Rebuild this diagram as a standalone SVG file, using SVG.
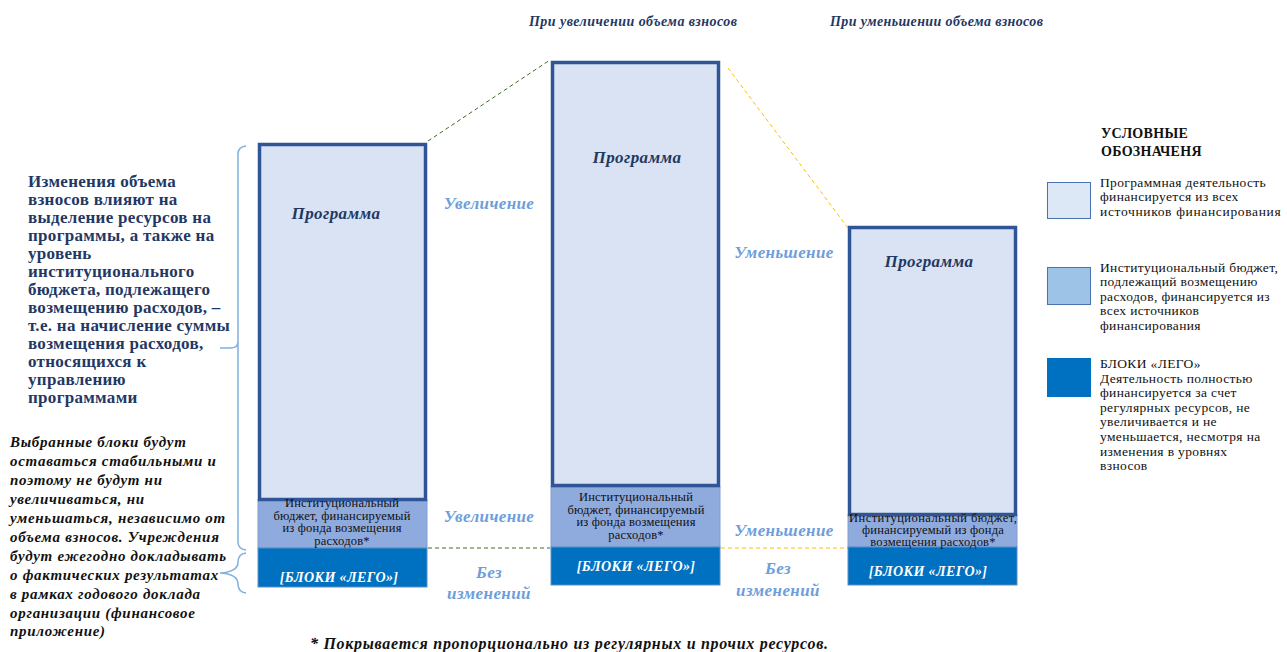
<svg xmlns="http://www.w3.org/2000/svg" width="1287" height="652" viewBox="0 0 1287 652">
<style>
.prog{fill:#dae3f3;stroke:#2f5597;stroke-width:3.5}
.inst{fill:#8faadc;stroke:#7f9fd0;stroke-width:1}
.lego{fill:#0070c0;stroke:#5b8fc8;stroke-width:1}
.pt{font-family:"Liberation Serif",serif;font-weight:bold;font-style:italic;font-size:17px;letter-spacing:0.4px;fill:#1f3864;text-anchor:middle}
.it{font-family:"Liberation Serif",serif;font-size:12.5px;letter-spacing:0.2px;fill:#111;text-anchor:middle}
.lt{font-family:"Liberation Serif",serif;font-weight:bold;font-style:italic;font-size:14px;letter-spacing:0.4px;fill:#fff;text-anchor:middle}
.ch{font-family:"Liberation Serif",serif;font-weight:bold;font-style:italic;font-size:17px;letter-spacing:0.4px;fill:#6d9edb;text-anchor:middle}
.hd{font-family:"Liberation Serif",serif;font-weight:bold;font-style:italic;font-size:14px;fill:#1f3864}
.lg{font-family:"Liberation Serif",serif;font-size:13.5px;letter-spacing:0.35px;fill:#111}
.brace{fill:none;stroke:#7fb0e0;stroke-width:1.5}
</style>
<rect width="1287" height="652" fill="#fff"/>

<g id="headings">
<text class="hd" x="529" y="26" textLength="208" lengthAdjust="spacing">При увеличении объема взносов</text>
<text class="hd" x="830" y="26" textLength="213" lengthAdjust="spacing">При уменьшении объема взносов</text>
</g>

<g id="connectors">
<line x1="428" y1="141" x2="550" y2="60" stroke="#3f6a26" stroke-width="1" stroke-dasharray="4,3"/>
<line x1="428" y1="548" x2="550" y2="548" stroke="#3f6a26" stroke-width="1" stroke-dasharray="4,3"/>
<line x1="728" y1="68" x2="848" y2="228" stroke="#ffc000" stroke-width="1" stroke-dasharray="4,3"/>
<line x1="721" y1="548" x2="848" y2="548" stroke="#ffc000" stroke-width="1" stroke-dasharray="4,3"/>
<path class="brace" d="M246,146 Q238,147 238,154 L238,342 Q238,348 230,348 L220,348 M238,342 Q238,350 238,356 L238,542 Q238,549 246,550"/>
<path class="brace" d="M246,553 Q238,554 238,562 Q238,572 220,573 Q238,574 238,584 Q238,592 246,593"/>
</g>

<g id="col1">
<rect class="inst" x="258" y="500" width="169" height="48"/>
<rect class="lego" x="258" y="548" width="169" height="39"/>
<rect class="prog" x="259.5" y="144.5" width="166" height="355"/>
<text class="pt" x="336" y="219">Программа</text>
<text class="it" x="342" y="507">Институциональный</text>
<text class="it" x="342" y="520">бюджет, финансируемый</text>
<text class="it" x="342" y="532">из фонда возмещения</text>
<text class="it" x="342" y="545">расходов*</text>
<text class="lt" x="339" y="582">[БЛОКИ «ЛЕГО»]</text>
</g>

<g id="col2">
<rect class="inst" x="551" y="487" width="169" height="60"/>
<rect class="lego" x="551" y="547" width="169" height="38"/>
<rect class="prog" x="552.5" y="62.5" width="166" height="423"/>
<text class="pt" x="637" y="163">Программа</text>
<text class="it" x="636" y="501">Институциональный</text>
<text class="it" x="636" y="514">бюджет, финансируемый</text>
<text class="it" x="636" y="526">из фонда возмещения</text>
<text class="it" x="636" y="539">расходов*</text>
<text class="lt" x="636" y="571">[БЛОКИ «ЛЕГО»]</text>
</g>

<g id="col3">
<rect class="inst" x="848" y="515" width="169" height="32"/>
<rect class="lego" x="848" y="547" width="169" height="38"/>
<rect class="prog" x="849.5" y="227.5" width="166" height="287"/>
<text class="pt" x="929" y="267">Программа</text>
<text class="it" x="933" y="522" textLength="168" lengthAdjust="spacing">Институциональный бюджет,</text>
<text class="it" x="933" y="534">финансируемый из фонда</text>
<text class="it" x="933" y="546">возмещения расходов*</text>
<text class="lt" x="928" y="576">[БЛОКИ «ЛЕГО»]</text>
</g>

<g id="change-labels">
<text class="ch" x="489" y="209">Увеличение</text>
<text class="ch" x="784" y="258">Уменьшение</text>
<text class="ch" x="489" y="522">Увеличение</text>
<text class="ch" x="784" y="536">Уменьшение</text>
<text class="ch" x="489" y="578">Без</text>
<text class="ch" x="489" y="599">изменений</text>
<text class="ch" x="778" y="574">Без</text>
<text class="ch" x="778" y="596">изменений</text>
</g>

<g id="left-text" font-family="Liberation Serif, serif" font-weight="bold" font-size="17px" letter-spacing="0.3px" fill="#1f3864">
<text x="28" y="187">Изменения объема</text>
<text x="28" y="205">взносов влияют на</text>
<text x="28" y="223">выделение ресурсов на</text>
<text x="28" y="241">программы, а также на</text>
<text x="28" y="259">уровень</text>
<text x="28" y="277">институционального</text>
<text x="28" y="295">бюджета, подлежащего</text>
<text x="28" y="313">возмещению расходов, –</text>
<text x="28" y="331">т.е. на начисление суммы</text>
<text x="28" y="349">возмещения расходов,</text>
<text x="28" y="367">относящихся к</text>
<text x="28" y="385">управлению</text>
<text x="28" y="403">программами</text>
</g>

<g id="left-italic" font-family="Liberation Serif, serif" font-weight="bold" font-style="italic" font-size="15px" letter-spacing="0.7px" fill="#111">
<text x="10" y="447">Выбранные блоки будут</text>
<text x="10" y="466">оставаться стабильными и</text>
<text x="10" y="485">поэтому не будут ни</text>
<text x="10" y="504">увеличиваться, ни</text>
<text x="10" y="523">уменьшаться, независимо от</text>
<text x="10" y="542">объема взносов. Учреждения</text>
<text x="10" y="561">будут ежегодно докладывать</text>
<text x="10" y="580">о фактических результатах</text>
<text x="10" y="599">в рамках годового доклада</text>
<text x="10" y="618">организации (финансовое</text>
<text x="10" y="636">приложение)</text>
</g>

<g id="footnote">
<text x="310" y="649" font-family="Liberation Serif, serif" font-weight="bold" font-style="italic" font-size="16px" textLength="518" lengthAdjust="spacing" fill="#111">* Покрывается  пропорционально из регулярных и прочих ресурсов.</text>
</g>

<g id="legend">
<text x="1101" y="138" font-family="Liberation Serif, serif" font-weight="bold" font-size="14px" letter-spacing="0.3px" fill="#111">УСЛОВНЫЕ</text>
<text x="1101" y="156" font-family="Liberation Serif, serif" font-weight="bold" font-size="14px" letter-spacing="0.3px" fill="#111">ОБОЗНАЧЕНЯ</text>
<rect x="1047.5" y="182.5" width="43" height="36" fill="#dde8f6" stroke="#4a72b0" stroke-width="1"/>
<text class="lg" x="1100" y="187">Программная деятельность</text>
<text class="lg" x="1100" y="201">финансируется из всех</text>
<text class="lg" x="1100" y="216" textLength="181" lengthAdjust="spacing">источников финансирования</text>
<rect x="1047.5" y="267.5" width="43" height="37" fill="#9dc3e6" stroke="#4a72b0" stroke-width="1"/>
<text class="lg" x="1100" y="272">Институциональный  бюджет,</text>
<text class="lg" x="1100" y="286">подлежащий возмещению</text>
<text class="lg" x="1100" y="301">расходов, финансируется из</text>
<text class="lg" x="1100" y="315">всех источников</text>
<text class="lg" x="1100" y="330">финансирования</text>
<rect x="1047" y="358" width="44" height="39" fill="#0070c0"/>
<text class="lg" x="1100" y="368">БЛОКИ «ЛЕГО»</text>
<text class="lg" x="1100" y="383">Деятельность  полностью</text>
<text class="lg" x="1100" y="397">финансируется за счет</text>
<text class="lg" x="1100" y="412">регулярных ресурсов, не</text>
<text class="lg" x="1100" y="426">увеличивается и не</text>
<text class="lg" x="1100" y="441">уменьшается, несмотря на</text>
<text class="lg" x="1100" y="456">изменения в уровнях</text>
<text class="lg" x="1100" y="470">взносов</text>
</g>
</svg>
